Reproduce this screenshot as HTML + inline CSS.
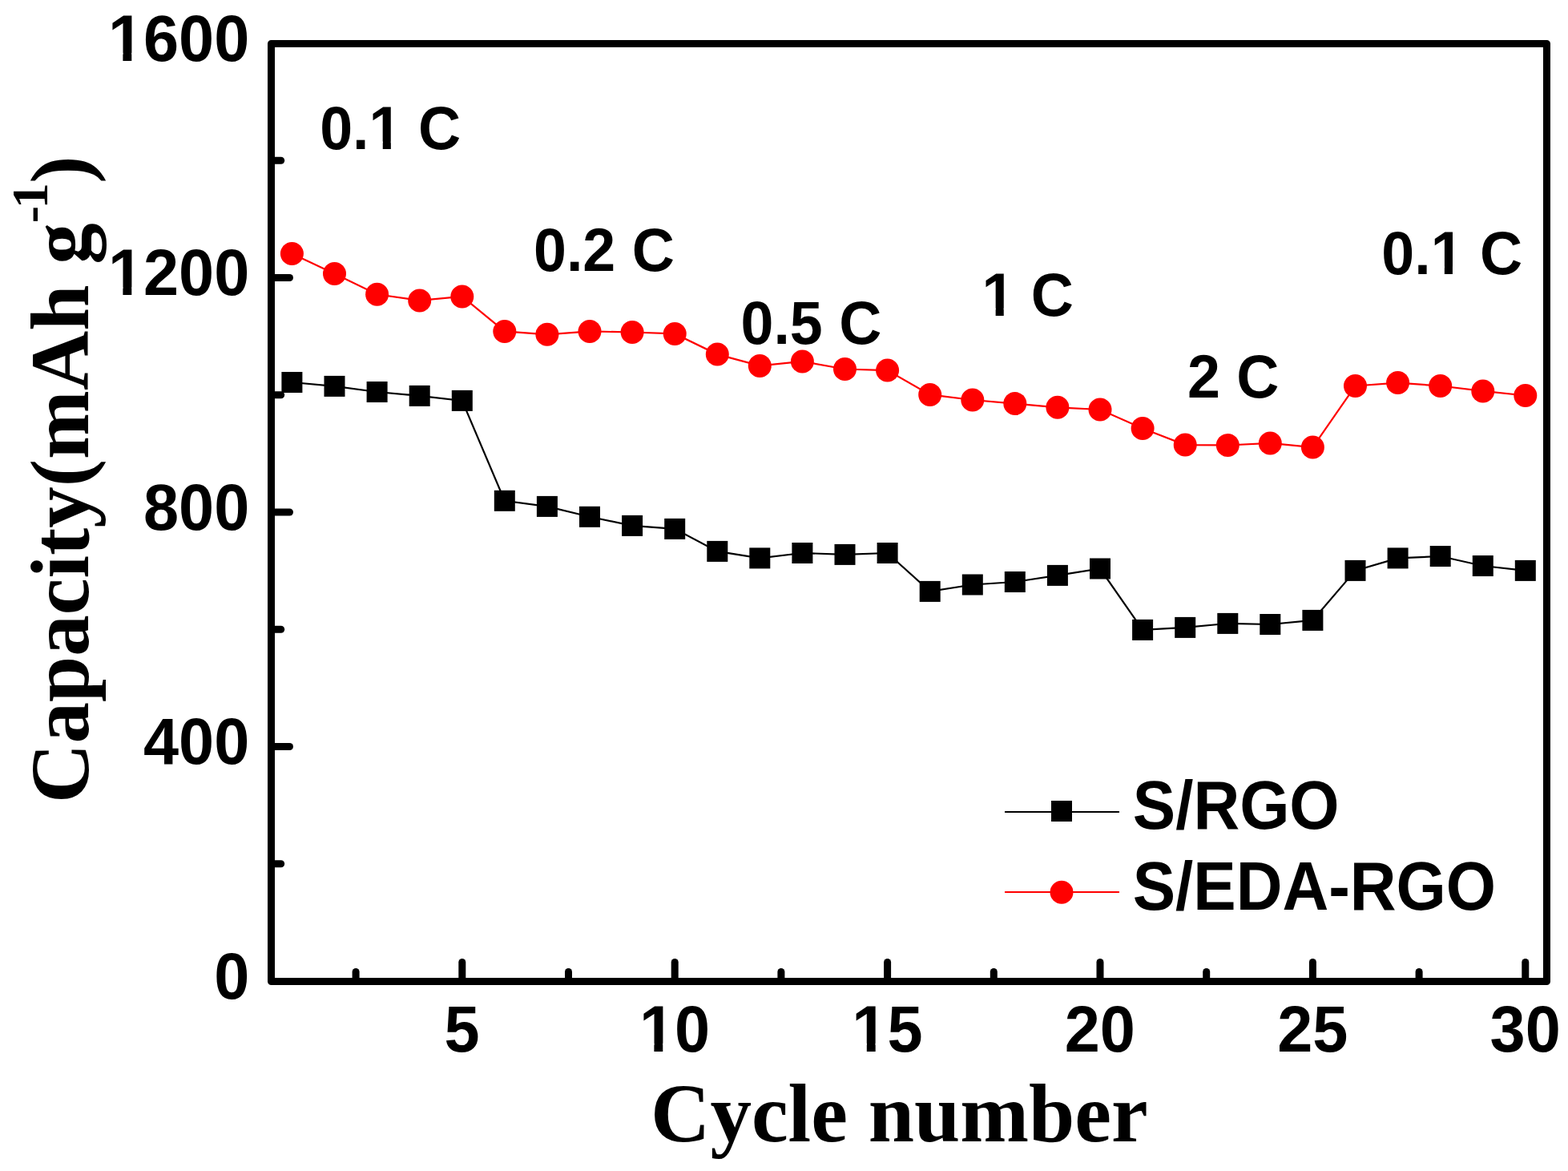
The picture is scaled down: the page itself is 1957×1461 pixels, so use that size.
<!DOCTYPE html>
<html><head><meta charset="utf-8"><title>Capacity vs Cycle number</title>
<style>html,body{margin:0;padding:0;background:#fff;overflow:hidden}svg{display:block}text{font-kerning:none}</style>
</head><body>
<svg width="1957" height="1461" viewBox="0 0 1957 1461">
<rect x="0" y="0" width="1957" height="1461" fill="#fff"/>
<polyline points="364.4,477.0 417.5,481.9 470.6,489.0 523.7,493.9 576.8,499.9 629.8,624.8 682.9,631.9 736.0,644.8 789.1,655.9 842.2,659.9 895.3,687.9 948.3,696.4 1001.4,690.0 1054.5,691.9 1107.6,690.0 1160.7,737.9 1213.8,729.5 1266.8,726.0 1319.9,717.9 1373.0,709.5 1426.1,785.9 1479.2,782.9 1532.3,777.9 1585.3,779.0 1638.4,773.9 1691.5,711.9 1744.6,696.4 1797.7,694.0 1850.8,706.0 1903.8,711.9" fill="none" stroke="#000" stroke-width="2.2"/>
<polyline points="364.4,316.6 417.5,341.4 470.6,367.3 523.7,374.9 576.8,369.9 629.8,413.4 682.9,417.3 736.0,413.4 789.1,414.5 842.2,416.4 895.3,442.1 948.3,456.4 1001.4,450.9 1054.5,460.5 1107.6,462.1 1160.7,492.4 1213.8,499.0 1266.8,503.6 1319.9,508.3 1373.0,511.0 1426.1,534.5 1479.2,555.1 1532.3,555.5 1585.3,552.9 1638.4,558.1 1691.5,481.5 1744.6,477.6 1797.7,481.5 1850.8,487.9 1903.8,493.5" fill="none" stroke="#f00" stroke-width="2.2"/>
<rect x="351.4" y="464.0" width="26" height="26" fill="#000"/>
<rect x="404.5" y="468.9" width="26" height="26" fill="#000"/>
<rect x="457.6" y="476.0" width="26" height="26" fill="#000"/>
<rect x="510.7" y="480.9" width="26" height="26" fill="#000"/>
<rect x="563.8" y="486.9" width="26" height="26" fill="#000"/>
<rect x="616.8" y="611.8" width="26" height="26" fill="#000"/>
<rect x="669.9" y="618.9" width="26" height="26" fill="#000"/>
<rect x="723.0" y="631.8" width="26" height="26" fill="#000"/>
<rect x="776.1" y="642.9" width="26" height="26" fill="#000"/>
<rect x="829.2" y="646.9" width="26" height="26" fill="#000"/>
<rect x="882.3" y="674.9" width="26" height="26" fill="#000"/>
<rect x="935.3" y="683.4" width="26" height="26" fill="#000"/>
<rect x="988.4" y="677.0" width="26" height="26" fill="#000"/>
<rect x="1041.5" y="678.9" width="26" height="26" fill="#000"/>
<rect x="1094.6" y="677.0" width="26" height="26" fill="#000"/>
<rect x="1147.7" y="724.9" width="26" height="26" fill="#000"/>
<rect x="1200.8" y="716.5" width="26" height="26" fill="#000"/>
<rect x="1253.8" y="713.0" width="26" height="26" fill="#000"/>
<rect x="1306.9" y="704.9" width="26" height="26" fill="#000"/>
<rect x="1360.0" y="696.5" width="26" height="26" fill="#000"/>
<rect x="1413.1" y="772.9" width="26" height="26" fill="#000"/>
<rect x="1466.2" y="769.9" width="26" height="26" fill="#000"/>
<rect x="1519.3" y="764.9" width="26" height="26" fill="#000"/>
<rect x="1572.3" y="766.0" width="26" height="26" fill="#000"/>
<rect x="1625.4" y="760.9" width="26" height="26" fill="#000"/>
<rect x="1678.5" y="698.9" width="26" height="26" fill="#000"/>
<rect x="1731.6" y="683.4" width="26" height="26" fill="#000"/>
<rect x="1784.7" y="681.0" width="26" height="26" fill="#000"/>
<rect x="1837.8" y="693.0" width="26" height="26" fill="#000"/>
<rect x="1890.8" y="698.9" width="26" height="26" fill="#000"/>
<circle cx="364.4" cy="316.6" r="14.5" fill="#f00"/>
<circle cx="417.5" cy="341.4" r="14.5" fill="#f00"/>
<circle cx="470.6" cy="367.3" r="14.5" fill="#f00"/>
<circle cx="523.7" cy="374.9" r="14.5" fill="#f00"/>
<circle cx="576.8" cy="369.9" r="14.5" fill="#f00"/>
<circle cx="629.8" cy="413.4" r="14.5" fill="#f00"/>
<circle cx="682.9" cy="417.3" r="14.5" fill="#f00"/>
<circle cx="736.0" cy="413.4" r="14.5" fill="#f00"/>
<circle cx="789.1" cy="414.5" r="14.5" fill="#f00"/>
<circle cx="842.2" cy="416.4" r="14.5" fill="#f00"/>
<circle cx="895.3" cy="442.1" r="14.5" fill="#f00"/>
<circle cx="948.3" cy="456.4" r="14.5" fill="#f00"/>
<circle cx="1001.4" cy="450.9" r="14.5" fill="#f00"/>
<circle cx="1054.5" cy="460.5" r="14.5" fill="#f00"/>
<circle cx="1107.6" cy="462.1" r="14.5" fill="#f00"/>
<circle cx="1160.7" cy="492.4" r="14.5" fill="#f00"/>
<circle cx="1213.8" cy="499.0" r="14.5" fill="#f00"/>
<circle cx="1266.8" cy="503.6" r="14.5" fill="#f00"/>
<circle cx="1319.9" cy="508.3" r="14.5" fill="#f00"/>
<circle cx="1373.0" cy="511.0" r="14.5" fill="#f00"/>
<circle cx="1426.1" cy="534.5" r="14.5" fill="#f00"/>
<circle cx="1479.2" cy="555.1" r="14.5" fill="#f00"/>
<circle cx="1532.3" cy="555.5" r="14.5" fill="#f00"/>
<circle cx="1585.3" cy="552.9" r="14.5" fill="#f00"/>
<circle cx="1638.4" cy="558.1" r="14.5" fill="#f00"/>
<circle cx="1691.5" cy="481.5" r="14.5" fill="#f00"/>
<circle cx="1744.6" cy="477.6" r="14.5" fill="#f00"/>
<circle cx="1797.7" cy="481.5" r="14.5" fill="#f00"/>
<circle cx="1850.8" cy="487.9" r="14.5" fill="#f00"/>
<circle cx="1903.8" cy="493.5" r="14.5" fill="#f00"/>
<g stroke="#000" stroke-width="9" stroke-linecap="round" fill="none">
<rect x="338.5" y="54.5" width="1592" height="1170" stroke-linejoin="round"/>
<line x1="338.5" y1="1077.8" x2="350.7" y2="1077.8"/>
<line x1="338.5" y1="931.5" x2="361.5" y2="931.5"/>
<line x1="338.5" y1="785.2" x2="350.7" y2="785.2"/>
<line x1="338.5" y1="639.0" x2="361.5" y2="639.0"/>
<line x1="338.5" y1="492.8" x2="350.7" y2="492.8"/>
<line x1="338.5" y1="346.5" x2="361.5" y2="346.5"/>
<line x1="338.5" y1="200.3" x2="350.7" y2="200.3"/>
<line x1="444.1" y1="1224.5" x2="444.1" y2="1212.5"/>
<line x1="576.8" y1="1224.5" x2="576.8" y2="1200.5"/>
<line x1="709.5" y1="1224.5" x2="709.5" y2="1212.5"/>
<line x1="842.2" y1="1224.5" x2="842.2" y2="1200.5"/>
<line x1="974.9" y1="1224.5" x2="974.9" y2="1212.5"/>
<line x1="1107.6" y1="1224.5" x2="1107.6" y2="1200.5"/>
<line x1="1240.3" y1="1224.5" x2="1240.3" y2="1212.5"/>
<line x1="1373.0" y1="1224.5" x2="1373.0" y2="1200.5"/>
<line x1="1505.7" y1="1224.5" x2="1505.7" y2="1212.5"/>
<line x1="1638.4" y1="1224.5" x2="1638.4" y2="1200.5"/>
<line x1="1771.1" y1="1224.5" x2="1771.1" y2="1212.5"/>
<line x1="1903.8" y1="1224.5" x2="1903.8" y2="1200.5"/>
</g>
<g font-family="Liberation Sans, Arial, sans-serif" font-weight="bold" fill="#000">
<g transform="translate(311.30,1245.80) scale(1,1.02)"><text font-size="79.3" text-anchor="end" xml:space="preserve">0</text></g>
<g transform="translate(311.30,953.30) scale(1,1.02)"><text font-size="79.3" text-anchor="end" xml:space="preserve">400</text></g>
<g transform="translate(311.30,660.80) scale(1,1.02)"><text font-size="79.3" text-anchor="end" xml:space="preserve">800</text></g>
<g transform="translate(311.30,368.30) scale(1,1.02)"><text font-size="79.3" text-anchor="end" xml:space="preserve">1200</text><rect x="-174.86" y="-9.68" width="16.96" height="11.68" fill="#fff"/><rect x="-147.02" y="-9.68" width="14.75" height="11.68" fill="#fff"/></g>
<g transform="translate(311.30,75.80) scale(1,1.02)"><text font-size="79.3" text-anchor="end" xml:space="preserve">1600</text><rect x="-174.86" y="-9.68" width="16.96" height="11.68" fill="#fff"/><rect x="-147.02" y="-9.68" width="14.75" height="11.68" fill="#fff"/></g>
<g transform="translate(576.56,1311.60) scale(1,1.02)"><text font-size="79.3" text-anchor="middle" xml:space="preserve">5</text></g>
<g transform="translate(841.98,1311.60) scale(1,1.02)"><text font-size="79.3" text-anchor="middle" xml:space="preserve">10</text><rect x="-42.55" y="-9.68" width="16.96" height="11.68" fill="#fff"/><rect x="-14.71" y="-9.68" width="14.75" height="11.68" fill="#fff"/></g>
<g transform="translate(1107.39,1311.60) scale(1,1.02)"><text font-size="79.3" text-anchor="middle" xml:space="preserve">15</text><rect x="-42.55" y="-9.68" width="16.96" height="11.68" fill="#fff"/><rect x="-14.71" y="-9.68" width="14.75" height="11.68" fill="#fff"/></g>
<g transform="translate(1372.81,1311.60) scale(1,1.02)"><text font-size="79.3" text-anchor="middle" xml:space="preserve">20</text></g>
<g transform="translate(1638.22,1311.60) scale(1,1.02)"><text font-size="79.3" text-anchor="middle" xml:space="preserve">25</text></g>
<g transform="translate(1903.64,1311.60) scale(1,1.02)"><text font-size="79.3" text-anchor="middle" xml:space="preserve">30</text></g>
</g>
<g font-family="Liberation Sans, Arial, sans-serif" font-weight="bold" fill="#000">
<g transform="translate(399.19,185.90) scale(1,1.045)"><text font-size="73.6" xml:space="preserve">0.1 C</text><rect x="62.82" y="-8.98" width="15.74" height="10.98" fill="#fff"/><rect x="88.66" y="-8.98" width="13.69" height="10.98" fill="#fff"/></g>
<g transform="translate(665.99,337.80) scale(1,1.045)"><text font-size="73.6" xml:space="preserve">0.2 C</text></g>
<g transform="translate(924.49,429.00) scale(1,1.045)"><text font-size="73.6" xml:space="preserve">0.5 C</text></g>
<g transform="translate(1225.46,394.00) scale(1,1.045)"><text font-size="73.6" xml:space="preserve">1 C</text><rect x="1.44" y="-8.98" width="15.74" height="10.98" fill="#fff"/><rect x="27.28" y="-8.98" width="13.69" height="10.98" fill="#fff"/></g>
<g transform="translate(1482.00,495.80) scale(1,1.045)"><text font-size="73.6" xml:space="preserve">2 C</text></g>
<g transform="translate(1724.29,341.80) scale(1,1.045)"><text font-size="73.6" xml:space="preserve">0.1 C</text><rect x="62.82" y="-8.98" width="15.74" height="10.98" fill="#fff"/><rect x="88.66" y="-8.98" width="13.69" height="10.98" fill="#fff"/></g>
</g>
<line x1="1254" y1="1013" x2="1397" y2="1013" stroke="#000" stroke-width="2.2"/>
<rect x="1312" y="999" width="26" height="26" fill="#000"/>
<line x1="1254" y1="1113" x2="1397" y2="1113" stroke="#f00" stroke-width="2.2"/>
<circle cx="1325" cy="1113.3" r="14.5" fill="#f00"/>
<g font-family="Liberation Sans, Arial, sans-serif" font-weight="bold" fill="#000">
<g transform="translate(1413.80,1033.90) scale(1,1.056)"><text font-size="80" xml:space="preserve">S/RGO</text></g>
<g transform="translate(1413.70,1134.80) scale(1,1.056)"><text font-size="80" xml:space="preserve">S/EDA-RGO</text></g>
</g>
<g font-family="Liberation Serif, Times New Roman, serif" font-weight="bold" font-size="103" fill="#000">
<text x="812" y="1424">Cycle number</text>
<text transform="translate(110,1002) rotate(-90)">Capacity(mAh g<tspan font-size="64" dy="-51">-</tspan><tspan font-size="64" dx="-3.5">1</tspan><tspan dy="51" dx="-0.5">)</tspan></text>
</g>
</svg>
</body></html>
